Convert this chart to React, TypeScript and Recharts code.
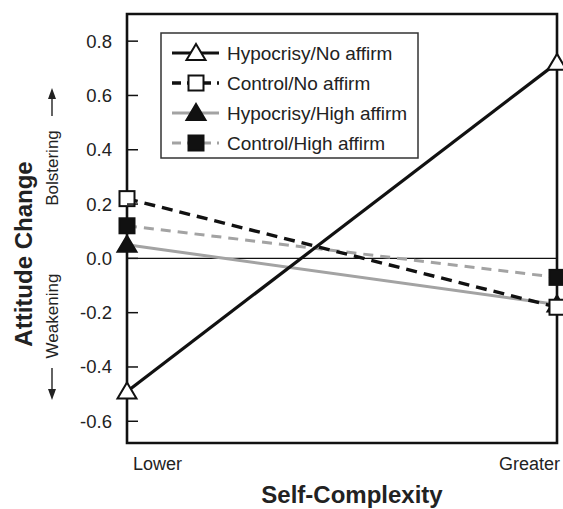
import {
  LineChart,
  Line,
  XAxis,
  YAxis,
  ReferenceLine,
  ReferenceArea,
} from "recharts";

const levels = ["Lower", "Greater"];
const hypocrisyNoAffirm = [-0.49, 0.72];
const controlNoAffirm = [0.22, -0.18];
const hypocrisyHighAffirm = [0.05, -0.17];
const controlHighAffirm = [0.12, -0.07];
const yTicks = [-0.6, -0.4, -0.2, 0, 0.2, 0.4, 0.6, 0.8];
const yDomain: [number, number] = [-0.68, 0.9];

const data = levels.map((level, i) => ({
  level,
  hypNo: hypocrisyNoAffirm[i],
  ctrlNo: controlNoAffirm[i],
  hypHigh: hypocrisyHighAffirm[i],
  ctrlHigh: controlHighAffirm[i],
}));

const FONT = "'Liberation Sans', Arial, sans-serif";
const BLACK = "#111";
const GRAY = "#a3a3a3";

type Shape = "triangle" | "square";

interface Series {
  key: string;
  name: string;
  color: string;
  width: number;
  dash?: string;
  shape: Shape;
  filled: boolean;
}

// legend order
const series: Series[] = [
  { key: "hypNo", name: "Hypocrisy/No affirm", color: BLACK, width: 3.2, shape: "triangle", filled: false },
  { key: "ctrlNo", name: "Control/No affirm", color: BLACK, width: 3.4, dash: "11 7", shape: "square", filled: false },
  { key: "hypHigh", name: "Hypocrisy/High affirm", color: GRAY, width: 3, shape: "triangle", filled: true },
  { key: "ctrlHigh", name: "Control/High affirm", color: GRAY, width: 3, dash: "10 7", shape: "square", filled: true },
];

// draw gray ones underneath
const drawOrder = [series[2], series[3], series[1], series[0]];

function Marker({ cx, cy, shape, filled }: { cx: number; cy: number; shape: Shape; filled: boolean }) {
  const fill = filled ? BLACK : "#fff";
  if (shape === "triangle") {
    return (
      <polygon
        points={`${cx},${cy - 9} ${cx + 9.5},${cy + 7} ${cx - 9.5},${cy + 7}`}
        fill={fill}
        stroke={BLACK}
        strokeWidth={2}
      />
    );
  }
  return <rect x={cx - 7.5} y={cy - 7.5} width={15} height={15} fill={fill} stroke={BLACK} strokeWidth={2} />;
}

const YTick = (props: any) => {
  const { x, y, payload } = props;
  return (
    <g>
      <line x1={x} x2={x + 11} y1={y} y2={y} stroke={BLACK} strokeWidth={1.5} />
      <text x={x - 15} y={y} dy="0.35em" textAnchor="end" fontFamily={FONT} fontSize={18.5} fill="#222">
        {Number(payload.value).toFixed(1)}
      </text>
    </g>
  );
};

const XTick = (props: any) => {
  const { x, y, payload, index } = props;
  const first = index === 0;
  return (
    <text
      x={first ? x + 6 : x + 3}
      y={y + 27}
      textAnchor={first ? "start" : "end"}
      fontFamily={FONT}
      fontSize={18}
      fill="#222"
    >
      {payload.value}
    </text>
  );
};

const LegendBox = () => (
  <g transform="translate(161,33)">
    <rect x={0} y={0} width={257} height={125} fill="#fff" stroke="#333" strokeWidth={1.5} />
    {series.map((s, i) => {
      const y = 20 + i * 30;
      return (
        <g key={s.key}>
          <line x1={11} x2={58} y1={y} y2={y} stroke={s.color} strokeWidth={s.width} strokeDasharray={s.dash ? "9 6" : undefined} />
          <Marker cx={35} cy={y} shape={s.shape} filled={s.filled} />
          <text x={66} y={y} dy="0.35em" fontFamily={FONT} fontSize={19} fill="#222">
            {s.name}
          </text>
        </g>
      );
    })}
  </g>
);

export default function App() {
  return (
    <div style={{ position: "absolute", left: 0, top: 0, background: "#fff" }}>
      <LineChart width={563} height={509} data={data} margin={{ top: 14, right: 6, bottom: 36, left: 0 }}>
        <XAxis dataKey="level" axisLine={false} tickLine={false} tickSize={0} tickMargin={0} height={30} tick={<XTick />} interval={0} />
        <YAxis
          type="number"
          domain={yDomain}
          ticks={yTicks}
          width={127}
          axisLine={false}
          tickLine={false}
          tickSize={0}
          tickMargin={0}
          tick={<YTick />}
          allowDataOverflow
        />
        <ReferenceLine y={0} stroke={BLACK} strokeWidth={1.3} />
        {drawOrder.map((s) => (
          <Line
            key={s.key}
            dataKey={s.key}
            name={s.name}
            stroke={s.color}
            strokeWidth={s.width}
            strokeDasharray={s.dash}
            isAnimationActive={false}
            dot={(p: any) => <Marker key={`${s.key}-${p.index}`} cx={p.cx} cy={p.cy} shape={s.shape} filled={s.filled} />}
            activeDot={false}
          />
        ))}
        <ReferenceArea x1="Lower" x2="Greater" y1={yDomain[0]} y2={yDomain[1]} fill="none" stroke={BLACK} strokeWidth={2.6} ifOverflow="visible" />
        <LegendBox />
        <g>
          <text transform="translate(32,254) rotate(-90)" textAnchor="middle" fontFamily={FONT} fontWeight="bold" fontSize={24} fill="#222">
            Attitude Change
          </text>
          <text transform="translate(58,168) rotate(-90)" textAnchor="middle" fontFamily={FONT} fontSize={17} fill="#222">
            Bolstering
          </text>
          <text transform="translate(58,316) rotate(-90)" textAnchor="middle" fontFamily={FONT} fontSize={17} fill="#222">
            Weakening
          </text>
          <line x1={52} x2={52} y1={116} y2={96} stroke="#222" strokeWidth={1.4} />
          <polygon points="52,88 48,99 56,99" fill="#222" />
          <line x1={52} x2={52} y1={368} y2={392} stroke="#222" strokeWidth={1.4} />
          <polygon points="52,400 48,389 56,389" fill="#222" />
          <text x={352} y={503} textAnchor="middle" fontFamily={FONT} fontWeight="bold" fontSize={24} fill="#222">
            Self-Complexity
          </text>
        </g>
      </LineChart>
    </div>
  );
}
